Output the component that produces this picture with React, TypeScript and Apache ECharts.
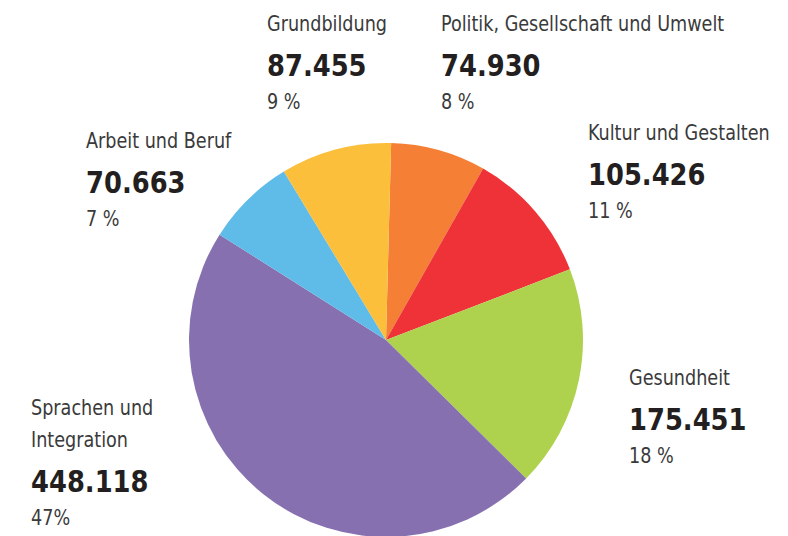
import React, { useEffect, useRef } from "react";
import * as echarts from "echarts";

const categories = [
  "Politik, Gesellschaft und Umwelt",
  "Kultur und Gestalten",
  "Gesundheit",
  "Sprachen und\nIntegration",
  "Arbeit und Beruf",
  "Grundbildung",
];
const values = [74930, 105426, 175451, 448118, 70663, 87455];
const valueLabels = ["74.930", "105.426", "175.451", "448.118", "70.663", "87.455"];
const percentLabels = ["8 %", "11 %", "18 %", "47%", "7 %", "9 %"];
const colors = ["#f47f35", "#ee3237", "#aed24d", "#8670b0", "#5fbbe8", "#fbbf3b"];

// label anchor positions (x, vertical centre of the first name line)
const labelPos = [
  [441, 24],
  [588, 133],
  [629, 378],
  [31, 408],
  [86, 141],
  [267, 24],
];

const FONT = '"DejaVu Sans Condensed", "Liberation Sans Narrow", "Arial Narrow", sans-serif';

export default function App() {
  const ref = useRef<HTMLDivElement>(null);
  useEffect(() => {
    if (!ref.current) return;
    const chart = echarts.init(ref.current, undefined, { renderer: "svg" });
    const graphics: any[] = [];
    categories.forEach((name, i) => {
      const [x, y] = labelPos[i];
      const lines = name.split("\n");
      lines.forEach((ln, k) => {
        graphics.push({
          type: "text",
          x,
          y: y + k * 32,
          scaleX: 0.89,
          style: {
            text: ln,
            fontFamily: FONT,
            fontSize: 22,
            fill: "#3a3a3a",
            verticalAlign: "middle",
            align: "left",
          },
        });
      });
      const ny = y + (lines.length - 1) * 32 + 41;
      graphics.push({
        type: "text",
        x,
        y: ny,
        scaleX: 0.925,
        style: {
          text: valueLabels[i],
          fontFamily: FONT,
          fontSize: 31,
          fontWeight: "bold",
          fill: "#231f20",
          verticalAlign: "middle",
          align: "left",
        },
      });
      graphics.push({
        type: "text",
        x,
        y: ny + 37,
        scaleX: 0.89,
        style: {
          text: percentLabels[i],
          fontFamily: FONT,
          fontSize: 22,
          fill: "#3a3a3a",
          verticalAlign: "middle",
          align: "left",
        },
      });
    });
    chart.setOption({
      animation: false,
      backgroundColor: "#ffffff",
      graphic: graphics,
      series: [
        {
          type: "pie",
          center: [386, 340],
          radius: 197,
          startAngle: 88.5,
          clockwise: true,
          label: { show: false },
          labelLine: { show: false },
          itemStyle: { borderWidth: 0 },
          emphasis: { disabled: true },
          data: values.map((v, i) => ({
            value: v,
            name: categories[i],
            itemStyle: { color: colors[i] },
          })),
        },
      ],
    });
    return () => chart.dispose();
  }, []);
  return (
    <div
      ref={ref}
      style={{ position: "fixed", left: 0, top: 0, width: 788, height: 536 }}
    />
  );
}
